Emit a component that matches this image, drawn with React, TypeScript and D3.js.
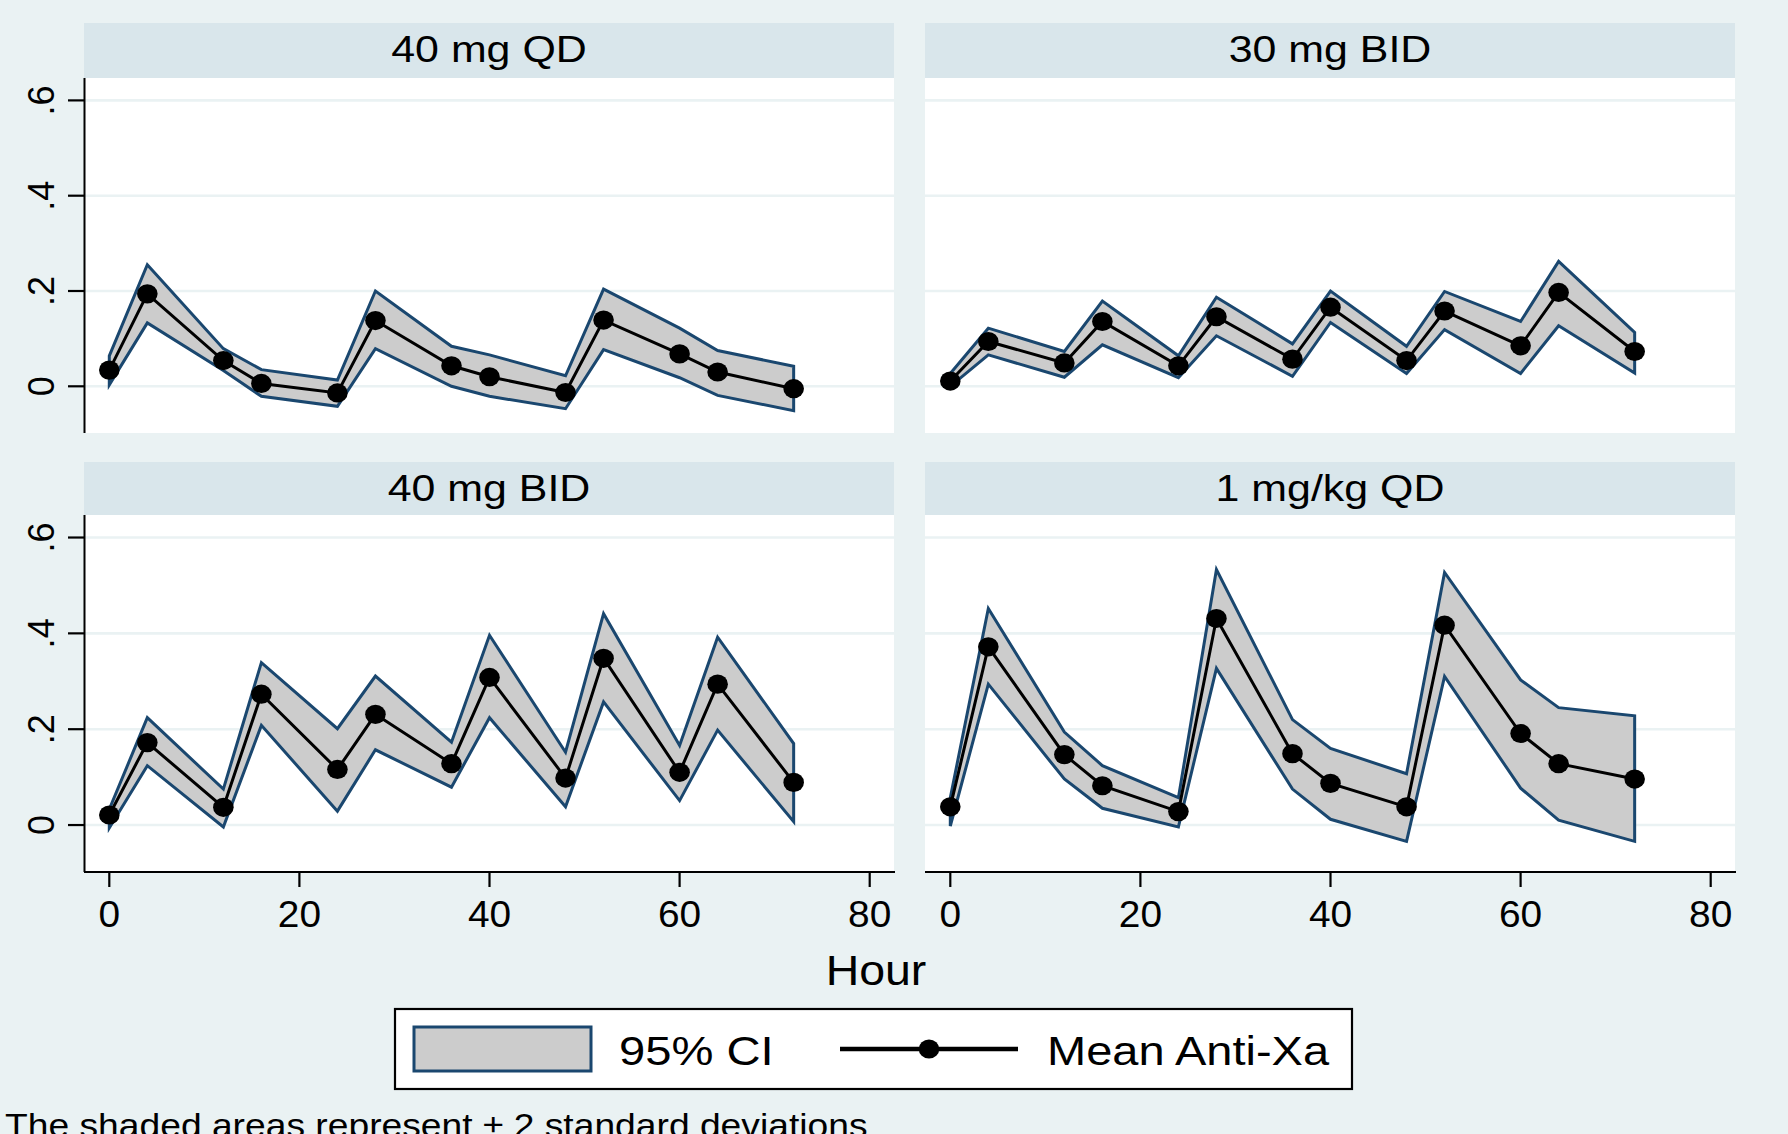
import React from 'react';
import * as d3 from 'd3';

// ---------- data ----------
const HOURS = [0, 4, 12, 16, 24, 28, 36, 40, 48, 52, 60, 64, 72];
const PANEL_TITLES = ['40 mg QD', '30 mg BID', '40 mg BID', '1 mg/kg QD'];

const QD40_MEAN = [0.034, 0.194, 0.054, 0.006, -0.014, 0.138, 0.043, 0.02, -0.013, 0.139, 0.068, 0.03, -0.005];
const QD40_UPPER = [0.064, 0.255, 0.079, 0.035, 0.013, 0.2, 0.084, 0.066, 0.022, 0.204, 0.122, 0.075, 0.042];
const QD40_LOWER = [0.003, 0.133, 0.033, -0.021, -0.042, 0.079, 0.0, -0.021, -0.047, 0.077, 0.018, -0.019, -0.051];

const BID30_MEAN = [0.011, 0.094, 0.049, 0.136, 0.043, 0.146, 0.057, 0.166, 0.054, 0.158, 0.085, 0.197, 0.073];
const BID30_UPPER = [0.027, 0.122, 0.073, 0.179, 0.064, 0.187, 0.089, 0.2, 0.084, 0.199, 0.136, 0.262, 0.113];
const BID30_LOWER = [0.0, 0.066, 0.019, 0.087, 0.018, 0.106, 0.021, 0.134, 0.027, 0.119, 0.027, 0.127, 0.028];

const BID40_MEAN = [0.021, 0.172, 0.037, 0.273, 0.116, 0.231, 0.128, 0.308, 0.098, 0.348, 0.11, 0.294, 0.089];
const BID40_UPPER = [0.033, 0.224, 0.075, 0.339, 0.201, 0.311, 0.173, 0.396, 0.152, 0.441, 0.166, 0.392, 0.17];
const BID40_LOWER = [-0.006, 0.124, -0.004, 0.208, 0.029, 0.157, 0.079, 0.224, 0.038, 0.257, 0.051, 0.198, 0.007];

const KG1_MEAN = [0.038, 0.372, 0.147, 0.082, 0.028, 0.431, 0.149, 0.087, 0.038, 0.417, 0.191, 0.128, 0.096];
const KG1_UPPER = [0.057, 0.452, 0.194, 0.124, 0.057, 0.533, 0.22, 0.16, 0.107, 0.527, 0.303, 0.245, 0.228];
const KG1_LOWER = [-0.002, 0.294, 0.096, 0.035, -0.004, 0.327, 0.075, 0.012, -0.034, 0.31, 0.077, 0.01, -0.034];

const Y_TICKS = [0, 0.2, 0.4, 0.6];
const Y_TICK_LABELS = ['0', '.2', '.4', '.6'];
const X_TICKS = [0, 20, 40, 60, 80];
const X_TICK_LABELS = ['0', '20', '40', '60', '80'];

const X_TITLE = 'Hour';
const LEGEND_LABELS = ['95% CI', 'Mean Anti-Xa'];
const NOTE = 'The shaded areas represent \u00b1 2 standard deviations';

// ---------- style ----------
const BG = '#EAF2F3';
const STRIP = '#D9E6EB';
const GRID = '#EAF2F3';
const CI_FILL = '#CCCCCC';
const NAVY = '#1A476F';
const FONT = '"Liberation Sans", Arial, Helvetica, sans-serif';

const W = 1788;
const H = 1134;

const SERIES = [
  { mean: QD40_MEAN, upper: QD40_UPPER, lower: QD40_LOWER },
  { mean: BID30_MEAN, upper: BID30_UPPER, lower: BID30_LOWER },
  { mean: BID40_MEAN, upper: BID40_UPPER, lower: BID40_LOWER },
  { mean: KG1_MEAN, upper: KG1_UPPER, lower: KG1_LOWER },
];

const COL_X = [84, 925];
const PANEL_W = 810;
const STRIP_TOP = [23, 462];
const PLOT_TOP = [78, 515];
const PLOT_H = [355, 357];

function SText(props: {
  x: number; y: number; size: number; sx?: number; anchor?: string; rotate?: boolean; children: any;
}) {
  const { x, y, size, sx = 1, anchor = 'start', rotate = false, children } = props;
  const t = rotate
    ? `translate(${x},${y}) rotate(-90)`
    : `translate(${x},${y}) scale(${sx},1)`;
  return (
    <text transform={t} fontSize={size} fontFamily={FONT} textAnchor={anchor} fill="#000">
      {children}
    </text>
  );
}

function Panel({ idx }: { idx: number }) {
  const col = idx % 2;
  const row = Math.floor(idx / 2);
  const x0 = COL_X[col];
  const top = PLOT_TOP[row];
  const ph = PLOT_H[row];
  const s = SERIES[idx];

  const x = d3.scaleLinear().domain([0, 80]).range([x0 + 25.3, x0 + 785.7]);
  const y = d3.scaleLinear().domain([-0.098, 0.647]).range([top + ph, top]);

  const pts = HOURS.map((h, i) => ({ h, m: s.mean[i], u: s.upper[i], l: s.lower[i] }));
  const area = d3.area<any>().x((d) => x(d.h)).y0((d) => y(d.l)).y1((d) => y(d.u))(pts) || '';
  const line = d3.line<any>().x((d) => x(d.h)).y((d) => y(d.m))(pts) || '';

  return (
    <g>
      {/* strip */}
      <rect x={x0} y={STRIP_TOP[row]} width={PANEL_W} height={top - STRIP_TOP[row]} fill={STRIP} />
      <SText x={x0 + PANEL_W / 2} y={STRIP_TOP[row] + 39} size={37} sx={1.16} anchor="middle">
        {PANEL_TITLES[idx]}
      </SText>
      {/* plot region */}
      <rect x={x0} y={top} width={PANEL_W} height={ph} fill="#fff" />
      {Y_TICKS.map((t) => (
        <line key={t} x1={x0} x2={x0 + PANEL_W} y1={y(t)} y2={y(t)} stroke={GRID} strokeWidth={2.6} />
      ))}
      <path d={area} fill={CI_FILL} stroke={NAVY} strokeWidth={3} strokeLinejoin="miter" />
      <path d={line} fill="none" stroke="#000" strokeWidth={3} />
      {pts.map((d, i) => (
        <ellipse key={i} cx={x(d.h)} cy={y(d.m)} rx={10.3} ry={9.6} fill="#000" />
      ))}
      {/* y axis */}
      {col === 0 && (
        <g>
          <line x1={x0 + 0.5} x2={x0 + 0.5} y1={top} y2={top + ph} stroke="#000" strokeWidth={2} />
          {Y_TICKS.map((t, i) => (
            <g key={t}>
              <line x1={x0 - 16} x2={x0 + 0.5} y1={y(t)} y2={y(t)} stroke="#000" strokeWidth={2.2} />
              <SText x={53.5} y={y(t)} size={36} anchor="middle" rotate>
                {Y_TICK_LABELS[i]}
              </SText>
            </g>
          ))}
        </g>
      )}
      {/* x axis */}
      {row === 1 && (
        <g>
          <line x1={x0} x2={x0 + PANEL_W + 1} y1={top + ph} y2={top + ph} stroke="#000" strokeWidth={2} />
          {X_TICKS.map((t, i) => (
            <g key={t}>
              <line x1={x(t)} x2={x(t)} y1={top + ph} y2={top + ph + 15} stroke="#000" strokeWidth={2.2} />
              <SText x={x(t)} y={927} size={37} sx={1.05} anchor="middle">
                {X_TICK_LABELS[i]}
              </SText>
            </g>
          ))}
        </g>
      )}
    </g>
  );
}

export default function App() {
  return (
    <div style={{ position: 'absolute', left: 0, top: 0 }}>
      <style>{`body{margin:0;}`}</style>
      <svg width={W} height={H} viewBox={`0 0 ${W} ${H}`} style={{ display: 'block' }}>
        <rect x={0} y={0} width={W} height={H} fill={BG} />
        {[0, 1, 2, 3].map((i) => (
          <Panel key={i} idx={i} />
        ))}
        <SText x={876} y={985} size={43} sx={1.08} anchor="middle">
          {X_TITLE}
        </SText>
        {/* legend */}
        <rect x={395} y={1009} width={957} height={80} fill="#fff" stroke="#000" strokeWidth={2.2} />
        <rect x={414} y={1027} width={177} height={44} fill={CI_FILL} stroke={NAVY} strokeWidth={3} />
        <SText x={619} y={1065} size={40} sx={1.18}>
          {LEGEND_LABELS[0]}
        </SText>
        <line x1={840} x2={1018} y1={1049} y2={1049} stroke="#000" strokeWidth={4.5} />
        <ellipse cx={929} cy={1049} rx={10.3} ry={9.6} fill="#000" />
        <SText x={1047} y={1065} size={40} sx={1.175}>
          {LEGEND_LABELS[1]}
        </SText>
        <SText x={5} y={1137} size={34} sx={1.095}>
          {NOTE}
        </SText>
      </svg>
    </div>
  );
}
